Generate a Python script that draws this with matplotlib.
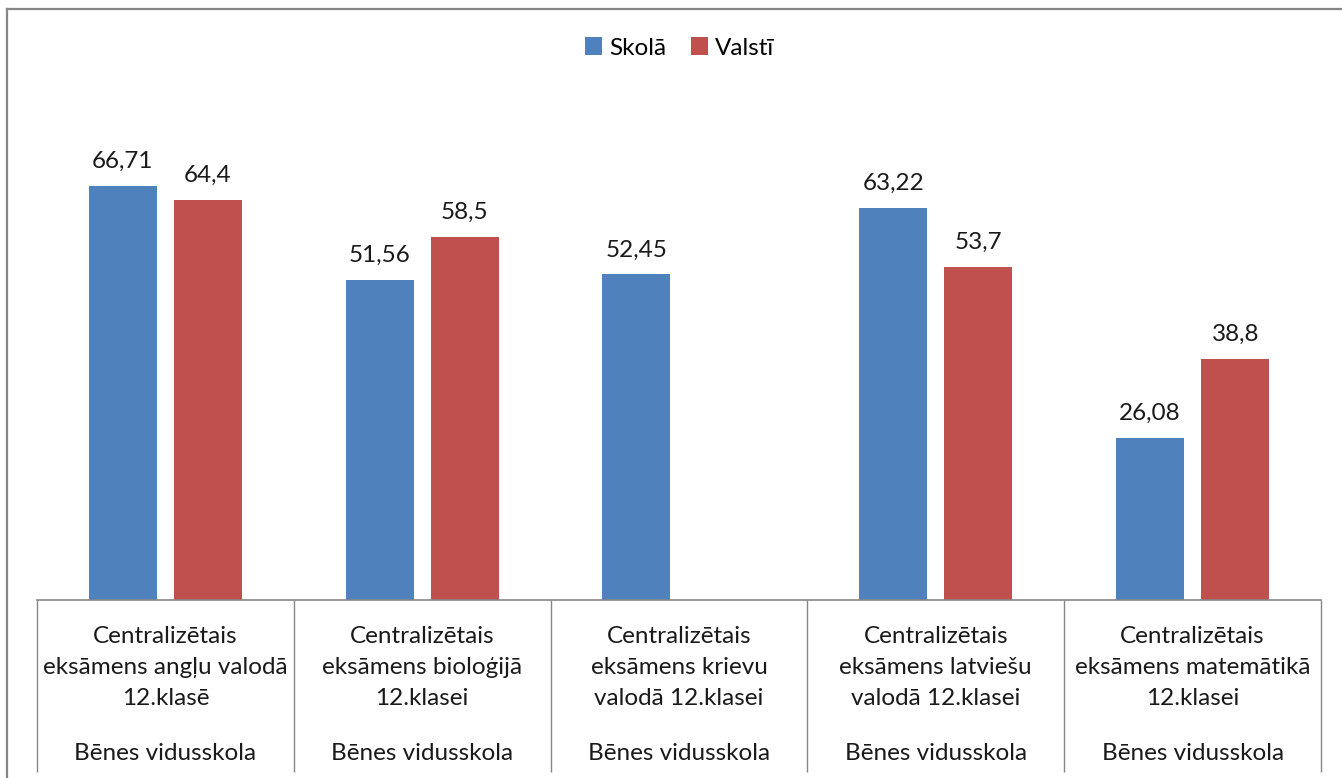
import numpy as np
import matplotlib
matplotlib.use('Agg')
import matplotlib.pyplot as plt
from matplotlib.lines import Line2D

plt.rcParams['font.family'] = ['Lato', 'DejaVu Sans']

categories = [
    'Centralizētais\neksāmens angļu valodā\n12.klasē',
    'Centralizētais\neksāmens bioloģijā\n12.klasei',
    'Centralizētais\neksāmens krievu\nvalodā 12.klasei',
    'Centralizētais\neksāmens latviešu\nvalodā 12.klasei',
    'Centralizētais\neksāmens matemātikā\n12.klasei',
]
school_names = ['Bēnes vidusskola'] * 5
skola = [66.71, 51.56, 52.45, 63.22, 26.08]
valsti = [64.4, 58.5, np.nan, 53.7, 38.8]

blue = '#4F81BD'
red = '#C0504D'
gray = '#868686'
fs = 17.5

fig = plt.figure(figsize=(13.42, 7.78), dpi=100)
ax = fig.add_axes([37 / 1342, 1 - 600 / 778, 1284 / 1342, 505 / 778])

x = np.arange(len(categories))
w = 0.265
off = 0.166
b1 = ax.bar(x - off, skola, w, color=blue, label='Skolā')
b2 = ax.bar(x + off, valsti, w, color=red, label='Valstī')

for bars, vals in ((b1, skola), (b2, valsti)):
    for rect, v in zip(bars, vals):
        if np.isnan(v):
            continue
        ax.annotate(f'{v:g}'.replace('.', ','),
                    (rect.get_x() + rect.get_width() / 2, v),
                    xytext=(0, 14), textcoords='offset pixels',
                    ha='center', va='bottom', fontsize=fs, color='#1a1a1a')

ax.set_xlim(-0.5, len(categories) - 0.5)
ax.set_ylim(0, 81.37)
ax.set_yticks([])
ax.set_xticks(x)
ax.set_xticklabels(categories, fontsize=fs, linespacing=1.57, color='#1a1a1a')
ax.tick_params(axis='x', length=0, pad=19)

for sp in ('left', 'right', 'top'):
    ax.spines[sp].set_visible(False)
ax.spines['bottom'].set_color(gray)
ax.spines['bottom'].set_linewidth(1.2)

# category separators running down through the label table
ax.vlines(np.arange(-0.5, len(categories)), 0, -172 / 505,
          transform=ax.get_xaxis_transform(), colors=gray, lw=1.0, clip_on=False)

for xi, name in zip(x, school_names):
    ax.annotate(name, (xi, 0), xycoords=('data', 'axes fraction'),
                xytext=(0, -153), textcoords='offset pixels',
                ha='center', va='center', fontsize=fs, color='#1a1a1a')

ax.legend(loc='center', bbox_to_anchor=(680 / 1342, 1 - 48 / 778),
          bbox_transform=fig.transFigure, ncol=2, frameon=False,
          fontsize=fs, handlelength=0.7, handleheight=0.7,
          handletextpad=0.3, columnspacing=1.0)

# outer chart border (top and left visible)
fig.add_artist(Line2D([7 / 1342, 7 / 1342], [0, 1 - 9 / 778],
                      transform=fig.transFigure, color=gray, lw=1.6))
fig.add_artist(Line2D([7 / 1342, 1], [1 - 9 / 778, 1 - 9 / 778],
                      transform=fig.transFigure, color=gray, lw=1.6))

fig.savefig('out.png', dpi=100)
